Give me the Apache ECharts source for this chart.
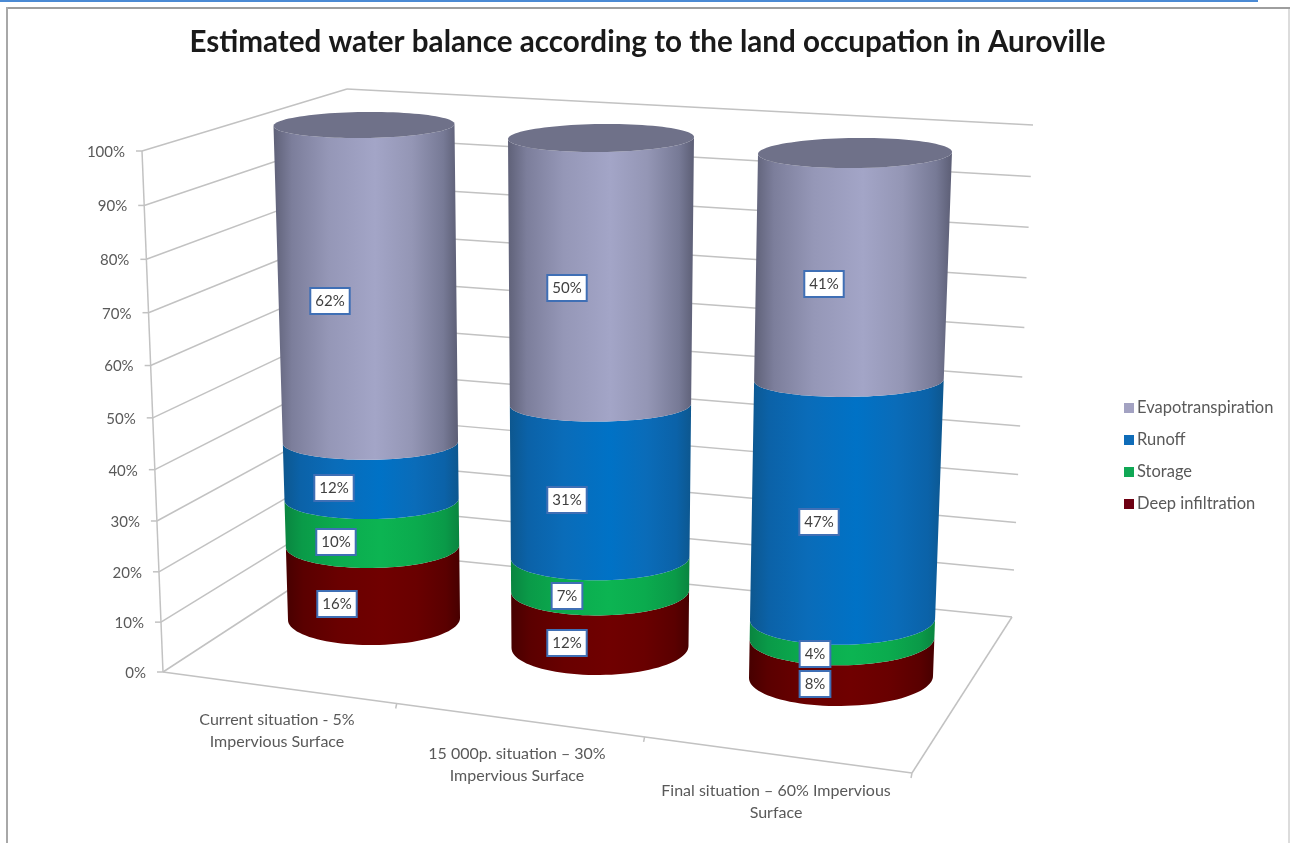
<!DOCTYPE html>
<html>
<head>
<meta charset="utf-8">
<style>html,body{margin:0;padding:0;background:#fff}#chart{width:1290px;height:843px}</style>
<script src="https://cdn.jsdelivr.net/npm/echarts@6/dist/echarts.min.js"></script>
</head>
<body>
<div id="chart"></div>
<script>
// Chart content
const categories = [
  'Current situation - 5%\nImpervious Surface',
  '15 000p. situation – 30%\nImpervious Surface',
  'Final situation – 60% Impervious\nSurface'
];
const deepInfiltration = [16, 12, 8];
const storage = [10, 7, 4];
const runoff = [12, 31, 47];
const evapotranspiration = [62, 50, 41];
const percentTicks = [0, 10, 20, 30, 40, 50, 60, 70, 80, 90, 100];

// Scene geometry: a fixed 3D view of the box and the cylinders standing in it
const BOX = {
  axisBottom: [163, 672], axisTop: [142, 151],
  backBottom: [350, 550], backTop: [347, 89],
  rightBottom: [1012, 617], rightTop: [1033, 125],
  front: [912, 773]
};
const CYLINDERS = [
  { bottom: { cx: 374, cy: 619, rx: 86, ry: 26 }, top: { cx: 364, cy: 125, rx: 90.5, ry: 13 }, labelShift: 0.42, labelAt: [277, 731] },
  { bottom: { cx: 600, cy: 647, rx: 88.5, ry: 28 }, top: { cx: 601, cy: 138, rx: 93, ry: 14 }, labelShift: 0.37, labelAt: [517, 765] },
  { bottom: { cx: 841, cy: 677, rx: 92, ry: 29 }, top: { cx: 855, cy: 153, rx: 97, ry: 15 }, labelShift: 0.29, labelAt: [776, 802] }
];
const BOX_DEPTH = 0.05;
const CYLINDER_DEPTH = 0.1;
const RIM_TILT = -1;
const FONT = 'Lato, "Open Sans", sans-serif';
const GREY_LINE = '#c2c2c2';

const PALETTE = {
  evapotranspiration: { legend: '#a3a2c2', stops: ['#5f6178', '#7c7e9b', '#9597b7', '#a3a5c7', '#9496b5', '#777a96', '#5c5e75'] },
  runoff: { legend: '#0f6cb8', stops: ['#0d578f', '#0b62a8', '#0a6cb9', '#0072c6', '#0a6cb9', '#0b62a8', '#0d578f'] },
  storage: { legend: '#10a855', stops: ['#0a8540', '#0a9a48', '#0bab4e', '#0cb452', '#0bab4e', '#0a9a48', '#0a8540'] },
  deep: { legend: '#6e0012', stops: ['#470000', '#5a0000', '#690000', '#700000', '#690000', '#5a0000', '#470000'] }
};

const lerp = (a, b, s) => a + (b - a) * s;
const foreshorten = (t, depth) => t / (1 + depth * (1 - t));
const chartGrid = { left: BOX.axisBottom[0], top: BOX.axisTop[1], right: 1290 - BOX.front[0], bottom: 843 - BOX.axisBottom[1] };

// Fraction of the height axis for a value, read through the chart's y scale
function heightFraction(api, value) {
  const y0 = api.coord([0, 0])[1];
  const y1 = api.coord([0, 100])[1];
  return (api.coord([0, value])[1] - y0) / (y1 - y0);
}

function rimAt(cat, t) {
  const c = CYLINDERS[cat];
  const s = foreshorten(t, CYLINDER_DEPTH);
  return {
    cx: lerp(c.bottom.cx, c.top.cx, s),
    cy: lerp(c.bottom.cy, c.top.cy, s),
    rx: lerp(c.bottom.rx, c.top.rx, s),
    ry: c.top.ry + (c.bottom.ry - c.top.ry) * Math.pow(1 - s, 2.4)
  };
}

// Front half of a rim, running left to right
function frontArc(r) {
  const pts = [];
  for (let i = 0; i <= 48; i++) {
    const a = Math.PI - Math.PI * i / 48;
    pts.push([r.cx + r.rx * Math.cos(a), r.cy + r.ry * Math.sin(a) + RIM_TILT * Math.cos(a)]);
  }
  return pts;
}

function sideFill(stops) {
  const at = [0, 0.1, 0.3, 0.55, 0.75, 0.92, 1];
  return new echarts.graphic.LinearGradient(0, 0, 1, 0, stops.map((color, i) => ({ offset: at[i], color })));
}

// One stacked slice of a cylinder, with its value box and, on the last slice, the cap
function segmentRenderer(colors, withCap) {
  return function (params, api) {
    const cat = api.value(0);
    const base = api.value(1);
    const end = api.value(2);
    const lowT = heightFraction(api, base);
    const highT = heightFraction(api, end);
    const low = rimAt(cat, lowT);
    const high = rimAt(cat, highT);
    const outline = frontArc(low).concat(frontArc(high).reverse());
    const children = [{
      type: 'polygon', shape: { points: outline },
      style: { fill: sideFill(colors.stops), stroke: null }
    }];
    if (withCap) {
      const back = frontArc(high).map(p => [2 * high.cx - p[0], 2 * high.cy - p[1]]);
      children.push({
        type: 'polygon', shape: { points: frontArc(high).concat(back) },
        style: { fill: '#6f7189' }
      });
    }
    const mid = rimAt(cat, heightFraction(api, (base + end) / 2));
    const shift = CYLINDERS[cat].labelShift;
    children.push({
      type: 'text', z2: 100,
      style: {
        x: Math.round(mid.cx - shift * mid.rx),
        y: Math.round(mid.cy + Math.sqrt(1 - shift * shift) * mid.ry),
        text: (end - base) + '%',
        align: 'center', verticalAlign: 'middle',
        font: '15px ' + FONT, fill: '#404040',
        backgroundColor: '#fff', borderColor: '#3f6fb5', borderWidth: 2,
        padding: [5, 4, 4, 4]
      }
    });
    return { type: 'group', children };
  };
}

function stackSeries(name, values, below, colors, withCap) {
  return {
    type: 'custom', name, coordinateSystem: 'cartesian2d', z: 5, clip: false,
    itemStyle: { color: colors.legend },
    encode: { x: 0, y: 2 },
    renderItem: segmentRenderer(colors, withCap),
    data: values.map((v, i) => {
      const base = below.reduce((sum, s) => sum + s[i], 0);
      return [i, base, base + v];
    })
  };
}

const greyLine = (a, b, width) => ({
  type: 'line', shape: { x1: a[0], y1: a[1], x2: b[0], y2: b[1] },
  style: { stroke: GREY_LINE, lineWidth: width || 1.5 }
});
const along = (a, b, s) => [lerp(a[0], b[0], s), lerp(a[1], b[1], s)];

// Walls of the box: one grid line around the corner per tick, plus its tick and label
function renderTick(params, api) {
  const v = api.value(0);
  const s = foreshorten(heightFraction(api, v), BOX_DEPTH);
  const p = along(BOX.axisBottom, BOX.axisTop, s);
  const corner = along(BOX.backBottom, BOX.backTop, s);
  const right = along(BOX.rightBottom, BOX.rightTop, s);
  return {
    type: 'group',
    children: [
      greyLine(p, corner), greyLine(corner, right),
      greyLine([p[0] - 6, p[1]], p),
      {
        type: 'text',
        style: {
          x: p[0] - 17, y: p[1] + 1, text: v + '%',
          align: 'right', verticalAlign: 'middle',
          font: '15px ' + FONT, fill: '#595959'
        }
      }
    ]
  };
}

// Floor edges and the category captions under the front edge
function renderCategory(params, api) {
  const cat = api.value(0);
  const marks = [0.312, 0.643, 1];
  const tick = along(BOX.axisBottom, BOX.front, marks[cat]);
  const [lx, ly] = CYLINDERS[cat].labelAt;
  const children = [
    greyLine(tick, [tick[0] - 1, tick[1] + 5]),
    {
      type: 'text',
      style: {
        x: lx, y: ly, text: categories[cat],
        align: 'center', verticalAlign: 'middle', lineHeight: 22,
        font: '16px ' + FONT, fill: '#595959'
      }
    }
  ];
  if (cat === 0) {
    children.push(
      greyLine(BOX.axisBottom, BOX.axisTop),
      greyLine(BOX.axisBottom, BOX.front),
      greyLine(BOX.front, BOX.rightBottom)
    );
  }
  return { type: 'group', children };
}

const chart = echarts.init(document.getElementById('chart'), null, { renderer: 'canvas' });
chart.setOption({
  animation: false,
  backgroundColor: '#fff',
  title: {
    text: 'Estimated water balance according to the land occupation in Auroville',
    left: 642.5, top: 22, textAlign: 'center',
    textStyle: { fontFamily: FONT, fontSize: 29.6, fontWeight: 'bold', color: '#1a1a1a' }
  },
  legend: {
    orient: 'vertical', left: 1119, top: 394, selectedMode: false,
    icon: 'rect', itemWidth: 10, itemHeight: 10, itemGap: 14,
    data: ['Evapotranspiration', 'Runoff', 'Storage', 'Deep infiltration'],
    textStyle: { fontFamily: FONT, fontSize: 16.5, color: '#595959', lineHeight: 18, padding: [0, 0, 0, -2] }
  },
  grid: chartGrid,
  xAxis: { type: 'category', data: categories, show: false },
  yAxis: { type: 'value', min: 0, max: 100, interval: 10, show: false },
  graphic: [
    { type: 'rect', shape: { x: 0, y: 0, width: 1258, height: 2 }, style: { fill: '#4a8ad4' }, silent: true },
    { type: 'rect', shape: { x: 6, y: 7, width: 1284, height: 2 }, style: { fill: '#9e9e9e' }, silent: true },
    { type: 'rect', shape: { x: 6, y: 7, width: 2, height: 836 }, style: { fill: '#a8a8a8' }, silent: true },
    { type: 'rect', shape: { x: 1288, y: 9, width: 2, height: 834 }, style: { fill: '#dcdcdc' }, silent: true }
  ],
  series: [
    {
      type: 'custom', name: 'wall', coordinateSystem: 'cartesian2d', z: 1, clip: false, silent: true,
      encode: { y: 0 }, renderItem: renderTick, data: percentTicks.map(v => [v])
    },
    {
      type: 'custom', name: 'floor', coordinateSystem: 'cartesian2d', z: 1, clip: false, silent: true,
      encode: { x: 0 }, renderItem: renderCategory, data: categories.map((c, i) => [i])
    },
    stackSeries('Deep infiltration', deepInfiltration, [], PALETTE.deep, false),
    stackSeries('Storage', storage, [deepInfiltration], PALETTE.storage, false),
    stackSeries('Runoff', runoff, [deepInfiltration, storage], PALETTE.runoff, false),
    stackSeries('Evapotranspiration', evapotranspiration, [deepInfiltration, storage, runoff], PALETTE.evapotranspiration, true)
  ]
});
</script>
</body>
</html>
